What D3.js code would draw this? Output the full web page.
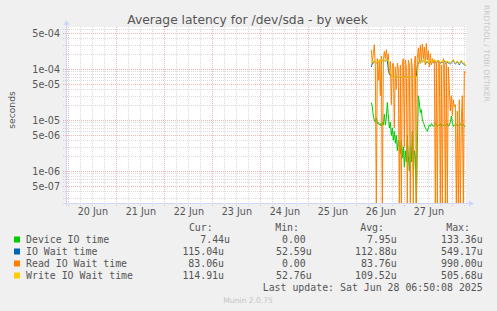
<!DOCTYPE html>
<html>
<head>
<meta charset="utf-8">
<script src="https://cdn.jsdelivr.net/npm/d3@7"></script>
<style>
  body { margin: 0; background: #f0f0f0; }
  svg { display: block; }
  text { font-family: "DejaVu Sans", sans-serif; }
  .mono { font-family: "DejaVu Sans Mono", monospace; white-space: pre; }
</style>
</head>
<body>
<svg id="graph" width="497" height="311"></svg>
<script>
"use strict";

// first 30 min sample shown (Jun 26 07:30), one value per sample
var debut = new Date(2025, 5, 26, 7, 30);
var pas = 30 * 60 * 1000;

var deviceIO = [
  2.2e-5, 1.8e-5, 1.2e-5, 1.0e-5, 9e-6, 1.1e-5, 8.5e-6, 9e-6, 8e-6, 8.5e-6,
  7.5e-6, 9e-6, 8e-6, 1.3e-5, 8e-6, 1.1e-5, 2.2e-5, 1.2e-5, 7e-6, 9e-6,
  5e-6, 7e-6, 4e-6, 6e-6, 3.5e-6, 5e-6, 2.5e-6, 4e-6, 3e-6, 2.2e-6,
  4e-6, 1.8e-6, 3e-6, 1.2e-6, 2.5e-6, 1.5e-6, 5e-6, 2e-6, 1e-6, 3e-6,
  1.5e-6, 6e-6, 8e-7, 2.5e-6, 2e-6, 0, 3e-6, 3e-5, 2.2e-5, 1.4e-5,
  1.6e-5, 1e-5, 9e-6, 8e-6, 7e-6, 6.5e-6, 6e-6, 7e-6, 8e-6, 7.5e-6,
  8.5e-6, 8e-6, 7.5e-6, 8e-6, 9e-6, 8e-6, 7.5e-6, 8e-6, 7.8e-6, 8.5e-6,
  7.5e-6, 8e-6, 7.6e-6, 8.2e-6, 8e-6, 7.8e-6, 8.5e-6, 7.5e-6, 8e-6, 9e-6,
  1.2e-5, 9e-6, 7.5e-6, 8e-6, 7.8e-6, 8.2e-6, 7.6e-6, 8e-6, 7.5e-6, 8.5e-6,
  8e-6, 7.8e-6, 8.2e-6, 7.6e-6, 7.44e-6
];

var ioWait = [
  1.1e-4, 1.3e-4, 1.3e-4, 1.45e-4, 1.4e-4, 1.3e-4, 1.4e-4, 1.35e-4, 1.5e-4, 1.4e-4,
  1.45e-4, 1.45e-4, 1.55e-4, 1.5e-4, 1.4e-4, 1.5e-4, 1.45e-4, 1.0e-4, 8e-5, 7.5e-5,
  7.6e-5, 7.2e-5, 6.8e-5, 7.0e-5, 7.3e-5, 6.9e-5, 7.1e-5, 6.7e-5, 7.0e-5, 7.2e-5,
  6.9e-5, 7.1e-5, 6.8e-5, 7.0e-5, 7.3e-5, 6.9e-5, 7.0e-5, 6.8e-5, 7.1e-5, 6.9e-5,
  7.0e-5, 6.8e-5, 7.2e-5, 6.9e-5, 7.0e-5, 7.1e-5, 1.2e-4, 1.25e-4, 1.4e-4, 1.3e-4,
  1.45e-4, 1.35e-4, 1.5e-4, 1.4e-4, 1.45e-4, 1.3e-4, 1.4e-4, 1.3e-4, 1.35e-4, 1.45e-4,
  1.3e-4, 1.4e-4, 1.35e-4, 1.5e-4, 1.4e-4, 1.3e-4, 1.45e-4, 1.35e-4, 1.4e-4, 1.3e-4,
  1.35e-4, 1.4e-4, 1.3e-4, 1.45e-4, 1.35e-4, 1.25e-4, 1.4e-4, 1.3e-4, 1.35e-4, 1.25e-4,
  1.3e-4, 1.4e-4, 1.5e-4, 1.35e-4, 1.25e-4, 1.3e-4, 1.4e-4, 1.3e-4, 1.2e-4, 1.35e-4,
  1.45e-4, 1.3e-4, 1.25e-4, 1.3e-4, 1.15e-4
];

var readWait = [
  2.4e-4, 1.3e-4, 2.0e-4, 3.0e-4, 1.1e-4, 0, 1.6e-4, 6e-5, 1.4e-4, 3e-5,
  1.8e-4, 0, 1.5e-4, 2.2e-4, 1.6e-4, 2.4e-4, 1.5e-4, 2.0e-4, 8e-5, 1.4e-4,
  2e-5, 1.2e-4, 1.3e-4, 7e-6, 1.1e-4, 4e-5, 1.3e-4, 1.0e-4, 0, 1.2e-4,
  0, 1.4e-4, 1.6e-4, 3e-6, 1.5e-4, 1.1e-4, 0, 1.5e-4, 1.2e-4, 0,
  1.6e-4, 1.0e-4, 0, 1.3e-4, 1.8e-4, 0, 1.6e-4, 2.6e-4, 1.3e-4, 2.9e-4,
  1.4e-4, 3.1e-4, 1.6e-4, 2.7e-4, 1.2e-4, 3.2e-4, 1.5e-4, 2.3e-4, 1.1e-4, 2.0e-4,
  1.2e-4, 1.6e-4, 1.3e-4, 1.5e-4, 0, 1.4e-4, 0, 1.5e-4, 1.3e-4, 0,
  1.2e-4, 0, 1.6e-4, 1.2e-4, 0, 1.4e-4, 0, 1.1e-4, 4e-5, 1.5e-5,
  3e-5, 1.2e-5, 2.5e-5, 1.8e-5, 2.0e-5, 0, 1.5e-5, 0, 2.5e-5, 0,
  1.0e-5, 3e-5, 0, 9e-5, 8.3e-5
];

var writeWait = [
  1.3e-4, 1.45e-4, 1.35e-4, 1.5e-4, 1.4e-4, 1.3e-4, 1.45e-4, 1.35e-4, 1.55e-4, 1.4e-4,
  1.5e-4, 1.45e-4, 1.6e-4, 1.5e-4, 1.4e-4, 1.55e-4, 1.45e-4, 1.5e-4, 1.2e-4, 9e-5,
  7.8e-5, 7.2e-5, 6.8e-5, 7.0e-5, 7.3e-5, 6.9e-5, 7.1e-5, 6.7e-5, 7.0e-5, 7.2e-5,
  6.9e-5, 7.1e-5, 6.8e-5, 7.0e-5, 7.3e-5, 6.9e-5, 7.0e-5, 6.8e-5, 7.1e-5, 6.9e-5,
  7.0e-5, 6.8e-5, 7.2e-5, 6.9e-5, 7.0e-5, 7.1e-5, 7.0e-5, 1.2e-4, 1.35e-4, 1.3e-4,
  1.45e-4, 1.35e-4, 1.55e-4, 1.4e-4, 1.5e-4, 1.35e-4, 1.45e-4, 1.3e-4, 1.4e-4, 1.5e-4,
  1.35e-4, 1.45e-4, 1.4e-4, 1.55e-4, 1.45e-4, 1.35e-4, 1.5e-4, 1.4e-4, 1.45e-4, 1.35e-4,
  1.4e-4, 1.45e-4, 1.35e-4, 1.5e-4, 1.4e-4, 1.3e-4, 1.45e-4, 1.35e-4, 1.4e-4, 1.3e-4,
  1.35e-4, 1.45e-4, 1.55e-4, 1.4e-4, 1.3e-4, 1.35e-4, 1.45e-4, 1.35e-4, 1.25e-4, 1.4e-4,
  1.5e-4, 1.35e-4, 1.3e-4, 1.35e-4, 1.15e-4
];

var yTickValues = [5e-4, 1e-4, 5e-5, 1e-5, 5e-6, 1e-6, 5e-7];
var yTickLabels = ["5e-04", "1e-04", "5e-05", "1e-05", "5e-06", "1e-06", "5e-07"];
var jours = [20, 21, 22, 23, 24, 25, 26, 27];
var dayLabels = ["20 Jun", "21 Jun", "22 Jun", "23 Jun", "24 Jun", "25 Jun", "26 Jun", "27 Jun"];

var seriesNames = ["Device IO time", "IO Wait time", "Read IO Wait time", "Write IO Wait time"];
var seriesColors = ["#00cc00", "#0066b3", "#ff8000", "#ffcc00"];
var curVals = ["7.44u", "115.04u", "83.06u", "114.91u"];
var minVals = ["0.00 ", "52.59u", "0.00 ", "52.76u"];
var avgVals = ["7.95u", "112.88u", "83.76u", "109.52u"];
var maxVals = ["133.36u", "549.17u", "990.00u", "505.68u"];

var gauche = 66, droite = 466, haut = 27, bas = 203; // zone de trace
var couleurTexte = "#555";

var svg = d3.select("#graph");

var x = d3.scaleTime()
  .domain([new Date(2025, 5, 19, 22, 50), new Date(2025, 5, 28, 6, 50)])
  .range([gauche, droite]);

var y = d3.scaleLog()
  .domain([2.36e-7, 6.67e-4])
  .range([bas, haut]);

// canvas
svg.append("rect")
  .attr("x", gauche).attr("y", haut)
  .attr("width", droite - gauche).attr("height", bas - haut)
  .attr("fill", "#fff");

svg.append("clipPath").attr("id", "zone")
  .append("rect")
  .attr("x", gauche).attr("y", haut)
  .attr("width", droite - gauche).attr("height", bas - haut);

// grille horizontale (log)
var lignesY = [];
for (var e = -7; e <= -3; e++) {
  for (var m = 1; m <= 9; m++) {
    var v = m * Math.pow(10, e);
    if (v >= y.domain()[0] && v <= y.domain()[1]) lignesY.push({ v: v, major: (m == 1 || m == 5) });
  }
}
// grille verticale : 6 h et minuit
var lignesX = d3.timeHour.every(6).range(x.domain()[0], x.domain()[1]).map(function (d) {
  return { d: d, major: d.getHours() == 0 };
});

var grille = svg.append("g").attr("shape-rendering", "crispEdges").attr("stroke-dasharray", "1,1");

function tracerGrille(major) {
  var couleur = major ? "rgba(222,79,79,0.42)" : "rgba(143,143,143,0.32)";
  grille.selectAll(null)
    .data(lignesY.filter(function (l) { return l.major == major; }))
    .enter().append("line")
    .attr("x1", gauche - 3).attr("x2", droite)
    .attr("y1", function (l) { return Math.round(y(l.v)) + 0.5; })
    .attr("y2", function (l) { return Math.round(y(l.v)) + 0.5; })
    .attr("stroke", couleur);
  grille.selectAll(null)
    .data(lignesX.filter(function (l) { return l.major == major; }))
    .enter().append("line")
    .attr("x1", function (l) { return Math.round(x(l.d)) + 0.5; })
    .attr("x2", function (l) { return Math.round(x(l.d)) + 0.5; })
    .attr("y1", haut).attr("y2", bas + 3)
    .attr("stroke", couleur);
}
tracerGrille(false);
tracerGrille(true);

// axes (lignes + fleches)
var couleurAxe = "#cfd6f8";
svg.append("line")
  .attr("x1", gauche - 3).attr("x2", droite + 4)
  .attr("y1", bas + 0.5).attr("y2", bas + 0.5)
  .attr("stroke", couleurAxe);
svg.append("path")
  .attr("d", "M" + (droite + 3) + "," + (bas - 2.5) + "L" + (droite + 8) + "," + (bas + 0.5) + "L" + (droite + 3) + "," + (bas + 3.5) + "Z")
  .attr("fill", couleurAxe);
svg.append("line")
  .attr("x1", gauche + 0.5).attr("x2", gauche + 0.5)
  .attr("y1", bas + 3).attr("y2", haut - 3)
  .attr("stroke", couleurAxe);
svg.append("path")
  .attr("d", "M" + (gauche - 2.5) + "," + (haut - 2) + "L" + (gauche + 0.5) + "," + (haut - 7) + "L" + (gauche + 3.5) + "," + (haut - 2) + "Z")
  .attr("fill", couleurAxe);

// libelles des axes
var axeY = svg.append("g")
  .attr("transform", "translate(" + gauche + ",0)")
  .call(d3.axisLeft(y).tickValues(yTickValues)
    .tickFormat(function (d, i) { return yTickLabels[i]; })
    .tickSize(0).tickPadding(6));
axeY.select(".domain").remove();
axeY.attr("font-family", "DejaVu Sans").attr("font-size", 9.6);
axeY.selectAll("text").attr("fill", couleurTexte);

var axeX = svg.append("g")
  .attr("transform", "translate(0," + bas + ")")
  .call(d3.axisBottom(x)
    .tickValues(jours.map(function (j) { return new Date(2025, 5, j, 12); }))
    .tickFormat(function (d, i) { return dayLabels[i]; })
    .tickSize(0).tickPadding(5.5));
axeX.select(".domain").remove();
axeX.attr("font-family", "DejaVu Sans").attr("font-size", 9.6);
axeX.selectAll("text").attr("fill", couleurTexte);

// courbes
var ligne = d3.line()
  .x(function (d, i) { return x(new Date(debut.getTime() + i * pas)); })
  .y(function (d) { return d > 0 ? y(d) : bas + 4; });

var courbes = svg.append("g").attr("clip-path", "url(#zone)");
[deviceIO, ioWait, readWait, writeWait].forEach(function (serie, k) {
  courbes.append("path")
    .datum(serie)
    .attr("d", ligne)
    .attr("fill", "none")
    .attr("stroke", seriesColors[k])
    .attr("stroke-width", 1);
});

// titre et textes
svg.append("text")
  .attr("x", 247.5).attr("y", 23.5)
  .attr("text-anchor", "middle")
  .attr("font-size", 12.3)
  .attr("fill", couleurTexte)
  .text("Average latency for /dev/sda - by week");

svg.append("text")
  .attr("transform", "translate(15,110) rotate(-90)")
  .attr("text-anchor", "middle")
  .attr("font-size", 9.2)
  .attr("fill", couleurTexte)
  .text("seconds");

svg.append("text")
  .attr("transform", "translate(484,5) rotate(90)")
  .attr("font-size", 7.5)
  .attr("fill", "#c8c8c8")
  .text("RRDTOOL / TOBI OETIKER");

// legende
var legende = svg.append("g").attr("class", "mono").attr("font-size", 9.9).attr("fill", couleurTexte);
var entetes = ["Cur:", "Min:", "Avg:", "Max:"];
var finEntete = [212.7, 299, 384, 470];
legende.selectAll("text.entete")
  .data(entetes)
  .enter().append("text")
  .attr("class", "entete mono")
  .attr("x", function (d, i) { return finEntete[i]; })
  .attr("y", 231)
  .attr("text-anchor", "end")
  .text(function (d) { return d; });

var finCur = [230, 224, 224, 224];
var colonnes = [minVals, avgVals, maxVals];
var finCol = [311.7, 396.7, 482.7];

seriesNames.forEach(function (nom, i) {
  var yl = 243 + i * 12;
  legende.append("rect")
    .attr("x", 14).attr("y", yl - 6.5)
    .attr("width", 6).attr("height", 6)
    .attr("fill", seriesColors[i]);
  legende.append("text").attr("class", "mono")
    .attr("x", 26).attr("y", yl).text(nom);
  legende.append("text").attr("class", "mono")
    .attr("x", finCur[i]).attr("y", yl)
    .attr("text-anchor", "end").text(curVals[i]);
  colonnes.forEach(function (col, c) {
    legende.append("text").attr("class", "mono")
      .attr("x", finCol[c]).attr("y", yl)
      .attr("text-anchor", "end").text(col[i]);
  });
});

legende.append("text").attr("class", "mono")
  .attr("x", 482.7).attr("y", 291)
  .attr("text-anchor", "end")
  .text("Last update: Sat Jun 28 06:50:08 2025");

svg.append("text")
  .attr("x", 248).attr("y", 302.5)
  .attr("text-anchor", "middle")
  .attr("font-size", 7.6)
  .attr("fill", "#c4c4c4")
  .text("Munin 2.0.75");
</script>
</body>
</html>
